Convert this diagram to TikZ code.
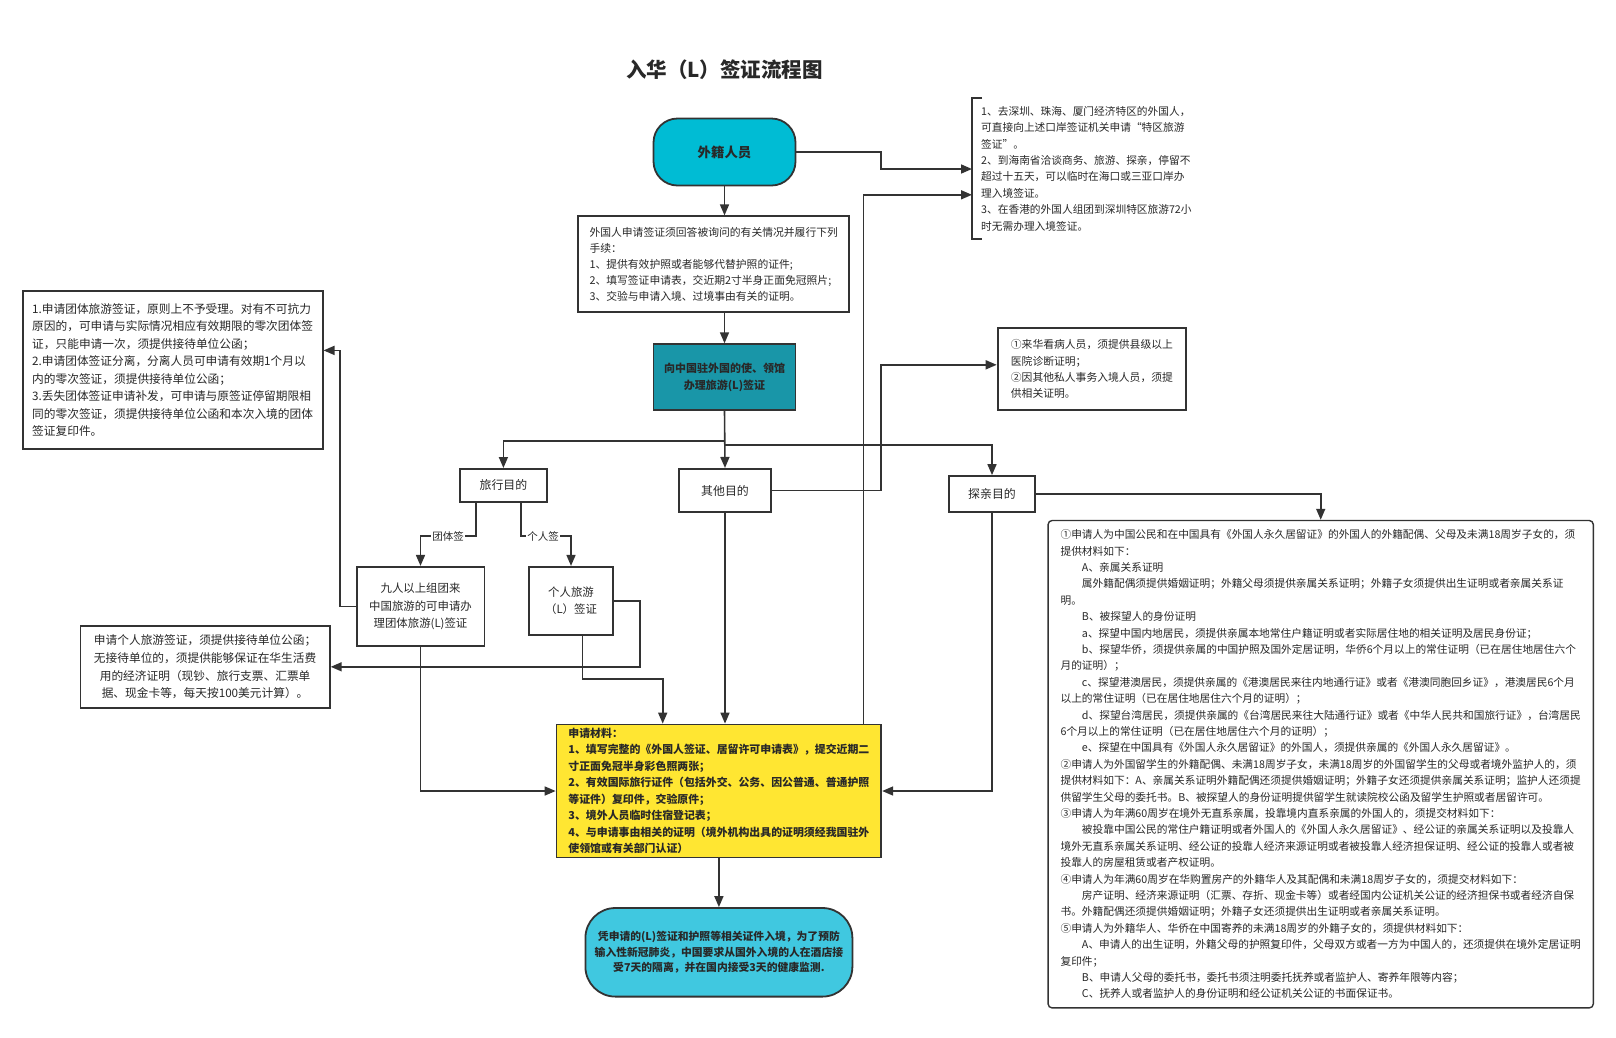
\documentclass[tikz,border=0pt]{standalone}
\usepackage{fontspec}
\setmainfont{Noto Sans CJK SC}
\usetikzlibrary{arrows.meta}
\definecolor{lc}{RGB}{51,51,51}
\definecolor{tc}{RGB}{40,40,40}
\definecolor{cyanA}{RGB}{0,188,212}
\definecolor{tealB}{RGB}{25,150,168}
\definecolor{yel}{RGB}{255,230,50}
\definecolor{cyanC}{RGB}{64,200,224}
\newcommand\fs[2]{\fontsize{#1}{#2}\selectfont}
\newcommand\ind{\hspace*{2em}}
\tikzset{
  box/.style={draw=lc, line width=1.8pt, fill=white, text=tc, inner sep=0pt},
  conn/.style={draw=lc, line width=1.6pt, -{Triangle[length=11pt,width=9pt]}},
  plain/.style={draw=lc, line width=1.6pt},
  lab/.style={fill=white, text=tc, inner sep=1pt, font=\fs{10.5}{12}},
}
\begin{document}
\begin{tikzpicture}[x=1pt,y=-1pt]
\useasboundingbox[fill=white] (0,0) rectangle (1616,1037);

\node[text=tc, font=\fs{20.5}{24}\bfseries] (title) at (724.5,70) {入华（L）签证流程图};

\node[box, minimum width=142pt, minimum height=67pt, fill=cyanA, rounded corners=24pt, font=\fs{13.4}{16}\bfseries] (wj) at (724.5,152) {外籍人员};

\node[box, minimum width=271pt, minimum height=96pt, align=left, font=\fs{10.8}{16.2}] (req) at (713.7,264.3) {外国人申请签证须回答被询问的有关情况并履行下列\\手续：\\1、提供有效护照或者能够代替护照的证件;\\2、填写签证申请表，交近期2寸半身正面免冠照片;\\3、交验与申请入境、过境事由有关的证明。};

\node[anchor=north west, inner xsep=9pt, inner ysep=8pt, align=left, text=tc, font=\fs{10.7}{16.4}] (note) at (972,98) {1、去深圳、珠海、厦门经济特区的外国人，\\可直接向上述口岸签证机关申请“特区旅游\\签证”。\\2、到海南省洽谈商务、旅游、探亲，停留不\\超过十五天，可以临时在海口或三亚口岸办\\理入境签证。\\3、在香港的外国人组团到深圳特区旅游72小\\时无需办理入境签证。};
\draw[plain] ([xshift=10pt]note.north west) -- (note.north west) -- (note.south west) -- ([xshift=10pt]note.south west);

\node[box, minimum width=300pt, minimum height=158.7pt, align=left, font=\fs{11.7}{17.5}] (grp) at (172.6,370) {1.申请团体旅游签证，原则上不予受理。对有不可抗力\\原因的，可申请与实际情况相应有效期限的零次团体签\\证，只能申请一次，须提供接待单位公函；\\2.申请团体签证分离，分离人员可申请有效期1个月以\\内的零次签证，须提供接待单位公函；\\3.丢失团体签证申请补发，可申请与原签证停留期限相\\同的零次签证，须提供接待单位公函和本次入境的团体\\签证复印件。};

\node[box, minimum width=142pt, minimum height=66pt, fill=tealB, align=center, font=\fs{11}{17.5}\bfseries] (emb) at (724.5,377.2) {向中国驻外国的使、领馆\\办理旅游(L)签证};

\node[box, minimum width=188.6pt, minimum height=82.5pt, align=left, font=\fs{10.8}{16.2}] (sick) at (1091.9,369) {①来华看病人员，须提供县级以上\\医院诊断证明；\\②因其他私人事务入境人员，须提\\供相关证明。};

\node[box, minimum width=87.6pt, minimum height=33pt, font=\fs{11.9}{14}] (trav) at (503.4,485.4) {旅行目的};
\node[box, minimum width=91.7pt, minimum height=43.3pt, font=\fs{11.9}{14}] (oth) at (725,490.5) {其他目的};
\node[box, minimum width=85.5pt, minimum height=36pt, font=\fs{11.9}{14}] (fam) at (992,494) {探亲目的};

\node[box, minimum width=127.8pt, minimum height=79.4pt, align=center, font=\fs{11.4}{17.5}] (nine) at (420.5,606.5) {九人以上组团来\\中国旅游的可申请办\\理团体旅游(L)签证};
\node[box, minimum width=84.5pt, minimum height=68pt, align=center, font=\fs{11.4}{17.5}] (ind) at (571,600.8) {个人旅游\\（L）签证};

\node[box, minimum width=249.4pt, minimum height=82.4pt, align=center, font=\fs{11.7}{17.9}] (indnote) at (205.1,666.8) {申请个人旅游签证，须提供接待单位公函；\\无接待单位的，须提供能够保证在华生活费\\用的经济证明（现钞、旅行支票、汇票单\\据、现金卡等，每天按100美元计算）。};

\node[box, minimum width=324.7pt, minimum height=133pt, fill=yel, align=left, font=\fs{10.9}{16.5}\bfseries] (mat) at (718.9,791) {申请材料：\\1、填写完整的《外国人签证、居留许可申请表》，提交近期二\\寸正面免冠半身彩色照两张；\\2、有效国际旅行证件（包括外交、公务、因公普通、普通护照\\等证件）复印件，交验原件；\\3、境外人员临时住宿登记表；\\4、与申请事由相关的证明（境外机构出具的证明须经我国驻外\\使领馆或有关部门认证）};

\node[box, minimum width=267pt, minimum height=88.6pt, fill=cyanC, rounded corners=30pt, align=center, font=\fs{10.8}{15.5}\bfseries] (entry) at (718.9,952.3) {凭申请的(L)签证和护照等相关证件入境，为了预防\\输入性新冠肺炎，中国要求从国外入境的人在酒店接\\受7天的隔离，并在国内接受3天的健康监测.};

\node[box, line width=1.4pt, rounded corners=4pt, minimum width=545.2pt, minimum height=487.4pt, align=left, font=\fs{10.7}{16.4}] (famnote) at (1320.7,764.2) {①申请人为中国公民和在中国具有《外国人永久居留证》的外国人的外籍配偶、父母及未满18周岁子女的，须\\提供材料如下：\\\ind A、亲属关系证明\\\ind 属外籍配偶须提供婚姻证明；外籍父母须提供亲属关系证明；外籍子女须提供出生证明或者亲属关系证\\明。\\\ind B、被探望人的身份证明\\\ind a、探望中国内地居民，须提供亲属本地常住户籍证明或者实际居住地的相关证明及居民身份证；\\\ind b、探望华侨，须提供亲属的中国护照及国外定居证明，华侨6个月以上的常住证明（已在居住地居住六个\\月的证明）；\\\ind c、探望港澳居民，须提供亲属的《港澳居民来往内地通行证》或者《港澳同胞回乡证》，港澳居民6个月\\以上的常住证明（已在居住地居住六个月的证明）；\\\ind d、探望台湾居民，须提供亲属的《台湾居民来往大陆通行证》或者《中华人民共和国旅行证》，台湾居民\\6个月以上的常住证明（已在居住地居住六个月的证明）；\\\ind e、探望在中国具有《外国人永久居留证》的外国人，须提供亲属的《外国人永久居留证》。\\②申请人为外国留学生的外籍配偶、未满18周岁子女，未满18周岁的外国留学生的父母或者境外监护人的，须\\提供材料如下：A、亲属关系证明外籍配偶还须提供婚姻证明；外籍子女还须提供亲属关系证明；监护人还须提\\供留学生父母的委托书。B、被探望人的身份证明提供留学生就读院校公函及留学生护照或者居留许可。\\③申请人为年满60周岁在境外无直系亲属，投靠境内直系亲属的外国人的，须提交材料如下：\\\ind 被投靠中国公民的常住户籍证明或者外国人的《外国人永久居留证》、经公证的亲属关系证明以及投靠人\\境外无直系亲属关系证明、经公证的投靠人经济来源证明或者被投靠人经济担保证明、经公证的投靠人或者被\\投靠人的房屋租赁或者产权证明。\\④申请人为年满60周岁在华购置房产的外籍华人及其配偶和未满18周岁子女的，须提交材料如下：\\\ind 房产证明、经济来源证明（汇票、存折、现金卡等）或者经国内公证机关公证的经济担保书或者经济自保\\书。外籍配偶还须提供婚姻证明；外籍子女还须提供出生证明或者亲属关系证明。\\⑤申请人为外籍华人、华侨在中国寄养的未满18周岁的外籍子女的，须提供材料如下：\\\ind A、申请人的出生证明，外籍父母的护照复印件，父母双方或者一方为中国人的，还须提供在境外定居证明\\复印件；\\\ind B、申请人父母的委托书，委托书须注明委托抚养或者监护人、寄养年限等内容；\\\ind C、抚养人或者监护人的身份证明和经公证机关公证的书面保证书。};

% helper coordinates
\coordinate (k1) at (881.2,169);
\coordinate (k2) at (863.6,194.8);
\coordinate (k3) at (724.5,441.1);
\coordinate (k4) at (724.5,445.2);
\coordinate (k5) at (881.2,364.8);
\coordinate (k6) at (476,536);
\coordinate (k7) at (521,536);
\coordinate (k9) at (340,350.4);
\coordinate (k10) at (640,666.8);
\coordinate (k11) at (582.3,679.2);
\coordinate (k12) at (662.7,679.2);

% connectors
\draw[conn] (wj.south) -- (wj.south |- req.north);
\draw[conn] (wj.east) -- (wj.east -| k1) -- (k1) -- (k1 -| note.west);
\draw[conn] (mat.north -| k2) -- (k2) -- (k2 -| note.west);
\draw[conn] (emb.south |- req.south) -- (emb.north);
\draw[conn] (emb.south) -- (oth.north);
\draw[conn] (k3) -| (trav.north);
\draw[conn] (k4) -| (fam.north);
\draw[conn] (oth.east) -- (oth.east -| k5) -- (k5) -- (k5 -| sick.west);
\draw[conn] (trav.south -| k6) -- (k6) -| (nine.north);
\draw[conn] (trav.south -| k7) -- (k7) -| (ind.north);
\node[lab] (lg) at (448,536) {团体签};
\node[lab] (li) at (543,536) {个人签};
\draw[conn] (nine.west) -- (nine.west -| k9) -- (k9) -- (k9 -| grp.east);
\draw[conn] (ind.east) -- (ind.east -| k10) -- (k10) -- (k10 -| indnote.east);
\draw[conn] (ind.south -| k11) -- (k11) -- (k12) -- (k12 |- mat.north);
\draw[conn] (nine.south) |- (mat.west);
\draw[conn] (oth.south) -- (oth.south |- mat.north);
\draw[conn] (fam.south) |- (mat.east);
\draw[conn] (fam.east) -| (famnote.north);
\draw[conn] (mat.south) -- (entry.north);
\end{tikzpicture}
\end{document}
